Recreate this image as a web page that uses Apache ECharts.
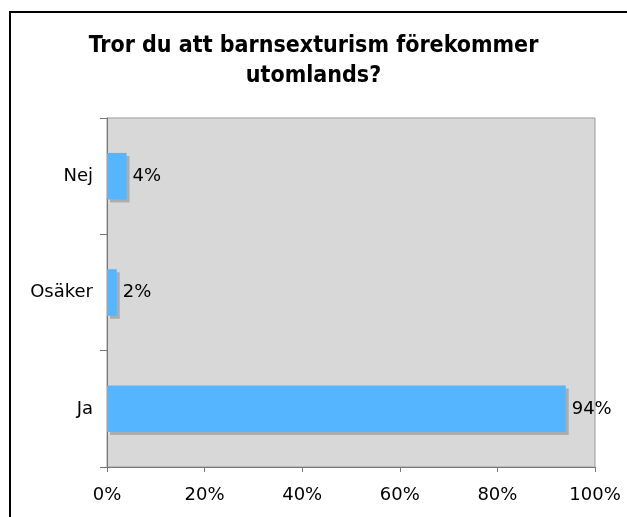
<!DOCTYPE html>
<html>
<head>
<meta charset="utf-8">
<script src="https://cdn.jsdelivr.net/npm/echarts@6/dist/echarts.min.js"></script>
<style>
html, body { margin: 0; padding: 0; background: #fff; }
#chart { width: 627px; height: 517px; }
</style>
</head>
<body>
<div id="chart"></div>
<script>
var categories = ['Ja', 'Osäker', 'Nej'];
var values = [94, 2, 4];
var xTicks = [0, 20, 40, 60, 80, 100];

var chart = echarts.init(document.getElementById('chart'));

var option = {
    animation: false,
    textStyle: { fontFamily: 'DejaVu Sans' },
    title: {
        text: 'Tror du att barnsexturism förekommer\nutomlands?',
        left: 'center',
        top: 26,
        textStyle: { fontSize: 23, fontWeight: 'bold', color: '#000', lineHeight: 30, fontFamily: 'DejaVu Sans Condensed' }
    },
    graphic: [{
        type: 'rect',
        shape: { x: 10, y: 12, width: 640, height: 540 },
        style: { fill: 'none', stroke: '#000', lineWidth: 2 },
        silent: true
    }],
    grid: {
        left: 107, right: 32, top: 118, bottom: 50,
        show: true,
        backgroundColor: '#d8d8d8',
        borderColor: '#9a9a9a',
        borderWidth: 1
    },
    xAxis: {
        type: 'value',
        min: xTicks[0],
        max: xTicks[xTicks.length - 1],
        interval: 20,
        splitLine: { show: false },
        axisLine: { show: true, lineStyle: { color: '#777' } },
        axisTick: { show: true, length: 5, lineStyle: { color: '#777' } },
        axisLabel: { formatter: '{value}%', fontSize: 18, color: '#000', margin: 19 }
    },
    yAxis: {
        type: 'category',
        data: categories,
        axisLine: { show: true, lineStyle: { color: '#777' } },
        axisTick: { show: true, length: 7, lineStyle: { color: '#777' } },
        axisLabel: { fontSize: 18, color: '#000', margin: 14 }
    },
    series: [{
        type: 'bar',
        data: values,
        barWidth: '40%',
        itemStyle: {
            color: '#55b5ff',
            shadowColor: 'rgba(0,0,0,0.2)',
            shadowOffsetX: 3,
            shadowOffsetY: 3,
            shadowBlur: 0
        },
        label: {
            show: true,
            position: 'right',
            distance: 6,
            formatter: '{c}%',
            fontSize: 18,
            color: '#000'
        }
    }]
};

chart.setOption(option);
</script>
</body>
</html>
